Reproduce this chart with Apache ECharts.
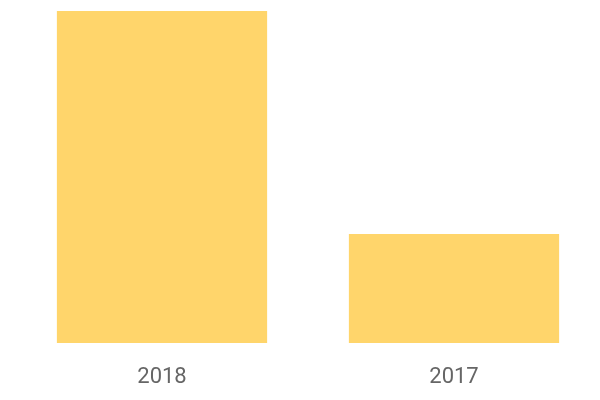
<!DOCTYPE html>
<html>
<head>
<meta charset="utf-8">
<script src="https://cdn.jsdelivr.net/npm/echarts@6/dist/echarts.min.js"></script>
<style>html,body{margin:0;padding:0;background:#fff;}#c{width:600px;height:400px;}</style>
</head>
<body>
<div id="c"></div>
<script>
const categories = ['2018', '2017'];
const values = [100, 32.8];

const chart = echarts.init(document.getElementById('c'), null, {renderer: 'canvas'});
chart.setOption({
  animation: false,
  grid: {left: 16, right: 0, top: 11, bottom: 57, containLabel: false},
  xAxis: {
    type: 'category',
    data: categories,
    axisLine: {show: false},
    axisTick: {show: false},
    axisLabel: {color: '#666', fontSize: 22, fontFamily: 'Roboto', margin: 23}
  },
  yAxis: {
    type: 'value',
    min: 0,
    max: 100,
    show: false,
    splitLine: {show: false}
  },
  series: [{
    type: 'bar',
    data: values,
    barWidth: '72%',
    itemStyle: {color: '#FFD56B'}
  }]
});
</script>
</body>
</html>
